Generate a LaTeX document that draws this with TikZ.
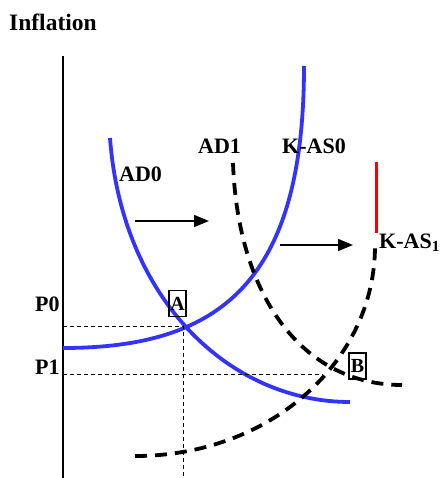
\documentclass[tikz,border=0pt]{standalone}
\usepackage{fontspec}
\setmainfont{Liberation Serif}
\usetikzlibrary{arrows.meta}
\definecolor{curveblue}{RGB}{51,51,255}
\tikzset{
  lbl/.style={font=\fontsize{22}{24}\selectfont\bfseries, inner sep=0pt, anchor=base west},
  bluecurve/.style={draw=curveblue, line width=3.8pt},
  blackdash/.style={draw=black, line width=3.8pt, dash pattern=on 12pt off 8pt},
  guide/.style={draw=black, line width=0.9pt, dash pattern=on 4pt off 3pt},
  shiftarrow/.style={draw=black, line width=1.5pt, -{Triangle[length=15pt,width=12pt]}},
  ptbox/.style={draw=black, line width=1.3pt, font=\fontsize{20}{22}\selectfont\bfseries, inner sep=0.5pt, minimum width=17pt, minimum height=26pt},
}
\begin{document}
\begin{tikzpicture}[x=1pt, y=-1pt]
\useasboundingbox (0,0) rectangle (444,478);
% axis
\coordinate (axtop) at (63,56);
\coordinate (axbot) at (63,478);
\draw[line width=1.5pt] (axtop) -- (axbot);
% curves
\coordinate (as0a) at (63,348);
\coordinate (as0b) at (304,66);
\draw[bluecurve] (as0a) .. controls (222,348) and (304,280) .. (as0b);
\coordinate (ad0a) at (110,138);
\coordinate (ad0b) at (350,402);
\draw[bluecurve] (ad0a) .. controls (122,300) and (230,402) .. (ad0b);
\coordinate (ad1a) at (233,163);
\coordinate (ad1b) at (402,385);
\draw[blackdash] (ad1a) .. controls (238,300) and (305,385) .. (ad1b);
\coordinate (as1a) at (135,456);
\coordinate (as1b) at (375,246);
\draw[blackdash] (as1a) .. controls (272,456) and (375,360) .. (as1b);
% red vertical
\coordinate (redtop) at (376,162);
\coordinate (redbot) at (376,233);
\draw[red, line width=3pt] (redtop) -- (redbot);
% guides
\coordinate (p0l) at (63,326);
\coordinate (pA) at (183,326);
\coordinate (pAbot) at (183,478);
\coordinate (p1l) at (63,374);
\coordinate (p1r) at (323,374);
\draw[guide] (p0l) -- (pA) -- (pAbot);
\draw[guide] (p1l) -- (p1r);
% shift arrows
\coordinate (ar1s) at (135,221);
\coordinate (ar1e) at (209,221);
\coordinate (ar2s) at (280,245);
\coordinate (ar2e) at (353,245);
\draw[shiftarrow] (ar1s) -- (ar1e);
\draw[shiftarrow] (ar2s) -- (ar2e);
% labels
\node[lbl, font=\fontsize{23.5}{25}\selectfont\bfseries] (title) at (9,31) {Inflation};
\node[lbl] (lad0) at (119,182) {AD0};
\node[lbl] (lad1) at (198,154) {AD1};
\node[lbl] (las0) at (282,154) {K-AS0};
\node[lbl] (las1) at (379,248) {K-AS$_{\mathbf{1}}$};
\node[lbl] (lp0) at (35,311) {P0};
\node[lbl] (lp1) at (35,374) {P1};
\node[ptbox] (bA) at (177.5,303.5) {A};
\node[ptbox] (bB) at (357.5,366) {B};
\end{tikzpicture}
\end{document}
